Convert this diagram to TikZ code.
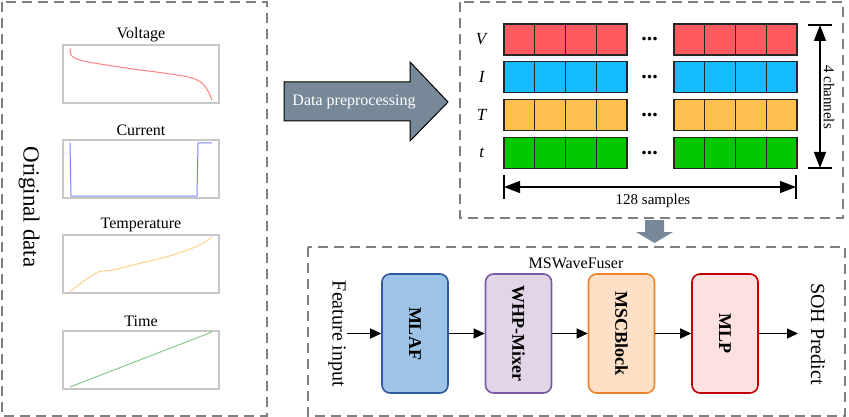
\documentclass[tikz,border=0pt]{standalone}
\usepackage{fontspec}
\setmainfont{Liberation Serif}
\usetikzlibrary{arrows.meta}
\definecolor{slate}{HTML}{778899}
\definecolor{cV}{HTML}{FF5A5F}
\definecolor{cI}{HTML}{12BCFF}
\definecolor{cT}{HTML}{FFC050}
\definecolor{ct}{HTML}{00C800}
\tikzset{
  dashbox/.style={draw=black!50, line width=1.6pt, dash pattern=on 10pt off 6pt},
  plotframe/.style={draw=black!22, line width=1.2pt},
  cell/.style={draw=black!85, line width=1.1pt},
  tick/.style={line width=1.2pt},
  dimline/.style={line width=1.2pt, {Triangle[length=16pt,width=12pt]}-{Triangle[length=16pt,width=12pt]}},
  flow/.style={line width=1.3pt, -{Triangle[length=11pt,width=10pt]}},
  block/.style={rounded corners=8pt, line width=1.6pt, rotate=-90, minimum width=119pt,
    minimum height=66pt, inner sep=0pt, font=\fontsize{18}{20}\selectfont\bfseries},
}
\begin{document}
\begin{tikzpicture}[x=1pt,y=-1pt,font=\fontsize{16}{18}\selectfont]
\useasboundingbox (0,0) rectangle (849,417);

%original data
\draw[dashbox] (2,2) rectangle (267,416);
\node[rotate=-90,font=\fontsize{23}{26}\selectfont] (orig) at (29,207) {Original data};
\foreach \name/\ytop in {Voltage/45,Current/140,Temperature/235,Time/331} {
  \draw[plotframe] (63,\ytop) rectangle ++(156,58);
  \node (\name) at (141,\ytop-10) {\name};
}
\draw[line width=1pt,color={rgb,255:red,255;green,128;blue,128}] plot[smooth] coordinates
  {(70,48) (71,55) (75,58) (83,61) (100,64) (133,69) (160,72.5) (183,76) (195,79) (203,84) (208,91) (212,100)};
\draw[line width=1pt,color={rgb,255:red,128;green,128;blue,255}] (70,143) -- (71,196) -- (197,196) -- (198,143) -- (212,143);
\draw[line width=1pt,color={rgb,255:red,255;green,210;blue,140}] plot[smooth] coordinates
  {(70,291.7) (83,281.7) (97,272.3) (103,271) (113,270) (133,265) (167,256.7) (193,248) (205,242) (212,237.3)};
\draw[line width=1pt,color={rgb,255:red,140;green,200;blue,140}] (70,387) -- (212,332);

%preprocessing arrow
\draw[fill=slate,line width=1pt] (284,82) -- (410,82) -- (410,62) -- (448,102) -- (410,141) -- (410,121) -- (284,121) -- cycle;
\node[text=white] (prep) at (354,102) {Data preprocessing};

%input tensor
\draw[dashbox] (460,2) rectangle (843,218);
\foreach \lab/\col [count=\row from 0] in {V/cV,I/cI,T/cT,t/ct} {
  \node[font=\fontsize{17}{19}\selectfont] (lab\lab) at (482,{39.5+37.7*\row}) {\textit{\lab}};
  \foreach \c in {0,...,3} {
    \draw[cell,fill=\col] ({504+30.75*\c},{24+37.7*\row}) rectangle ++(30.75,31);
    \draw[cell,fill=\col] ({674+30.75*\c},{24+37.7*\row}) rectangle ++(30.75,31);
  }
  \node[font=\fontsize{22}{24}\selectfont\bfseries,inner sep=0pt] (dots\row) at (649.5,{39.5+37.7*\row}) {...};
}
\coordinate (chtop) at (820,25);
\coordinate (chbot) at (820,168);
\draw[tick] (808,25) -- (832,25);
\draw[tick] (808,168) -- (832,168);
\draw[dimline] (chtop) -- (chbot);
\node[rotate=-90,font=\fontsize{15}{17}\selectfont] (chan) at (829,97) {4 channels};
\coordinate (smpl) at (504,187);
\coordinate (smpr) at (796,187);
\draw[tick] (504,175) -- (504,199);
\draw[tick] (796,175) -- (796,199);
\draw[dimline] (smpl) -- (smpr);
\node[font=\fontsize{15}{17}\selectfont] (samples) at (653,201) {128 samples};

%down arrow
\fill[slate] (645,220) -- (664,220) -- (664,232) -- (673,232) -- (654.5,243) -- (636,232) -- (645,232) -- cycle;

%model
\draw[dashbox] (308,247) rectangle (845,416);
\node (fuser) at (576,263) {MSWaveFuser};
\node[rotate=-90,font=\fontsize{20}{22}\selectfont,inner sep=1pt] (feat) at (337,334) {Feature input};
\node[rotate=-90,font=\fontsize{20}{22}\selectfont] (soh) at (818,334) {SOH Predict};
\coordinate (in) at (347,333.5);
\coordinate (out) at (798,333.5);
\node[block,fill={rgb,255:red,157;green,195;blue,230},draw={rgb,255:red,46;green,92;blue,158}] (mlaf) at (415,333.5) {MLAF};
\node[block,fill={rgb,255:red,225;green,213;blue,231},draw={rgb,255:red,123;green,90;blue,166}] (whp) at (518.5,333.5) {WHP-Mixer};
\node[block,fill={rgb,255:red,253;green,224;blue,197},draw={rgb,255:red,236;green,132;blue,46}] (msc) at (621.5,333.5) {MSCBlock};
\node[block,fill={rgb,255:red,253;green,224;blue,224},draw={rgb,255:red,192;green,0;blue,0}] (mlp) at (725,333.5) {MLP};
\draw[flow] (in) -- (mlaf);
\draw[flow] (mlaf) -- (whp);
\draw[flow] (whp) -- (msc);
\draw[flow] (msc) -- (mlp);
\draw[flow] (mlp) -- (out);
\end{tikzpicture}
\end{document}
